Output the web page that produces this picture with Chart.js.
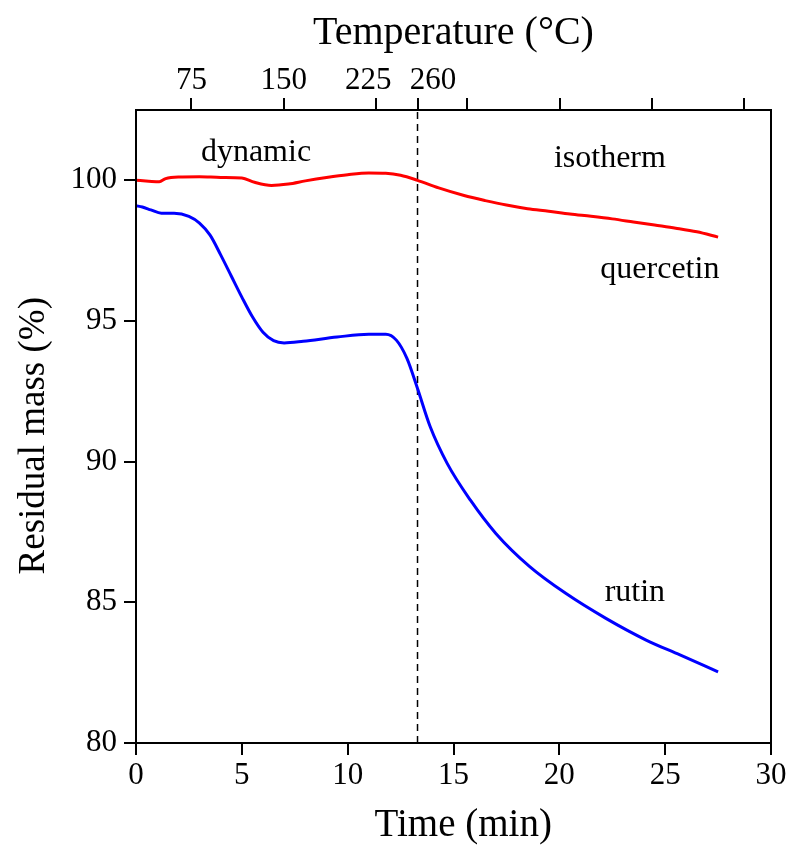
<!DOCTYPE html>
<html>
<head>
<meta charset="utf-8">
<script src="https://cdn.jsdelivr.net/npm/chart.js@4/dist/chart.umd.min.js"></script>
<style>
  html, body { margin: 0; padding: 0; background: #fff; }
  #wrap { width: 789px; height: 845px; position: relative; }
</style>
</head>
<body>
<div id="wrap"><canvas id="tga"></canvas></div>
<script>
/* ── Données ────────────────────────────────────────────────── */
const quercetinTime = [0, 0.6, 1.1, 1.4, 2.0, 3.0, 4.0, 5.0, 5.6, 6.4, 7.2, 8.0, 9.0, 10.0, 11.0, 11.8, 12.5, 13.3, 14.3, 15.5, 16.5, 17.5, 18.5, 19.5, 20.5, 21.5, 22.5, 23.5, 24.5, 25.5, 26.5, 27.5];
const quercetinMass = [100.0, 99.97, 99.95, 100.06, 100.12, 100.13, 100.1, 100.08, 99.93, 99.82, 99.87, 99.98, 100.1, 100.2, 100.26, 100.25, 100.18, 100.0, 99.73, 99.46, 99.28, 99.12, 98.99, 98.9, 98.8, 98.72, 98.63, 98.52, 98.41, 98.3, 98.17, 97.98];

const rutinTime = [0, 0.3, 0.7, 1.2, 1.8, 2.5, 3.0, 3.5, 4.0, 4.5, 5.0, 5.5, 6.0, 6.5, 7.0, 7.9, 9.5, 11.0, 11.8, 12.3, 12.8, 13.3, 13.9, 14.7, 15.8, 17.0, 18.6, 20.3, 22.2, 24.1, 25.7, 27.5];
const rutinMass = [99.1, 99.05, 98.95, 98.83, 98.83, 98.72, 98.48, 98.05, 97.35, 96.6, 95.85, 95.15, 94.6, 94.3, 94.22, 94.28, 94.43, 94.53, 94.53, 94.32, 93.67, 92.6, 91.24, 89.94, 88.63, 87.45, 86.27, 85.32, 84.43, 83.66, 83.13, 82.53];

const switchTime = 13.3;                       // fin de la rampe -> isotherme
const timeTicks  = [0, 5, 10, 15, 20, 25, 30];
const massTicks  = [80, 85, 90, 95, 100];
const tempTickTimes  = [2.62, 6.98, 11.34, 13.3, 15.66, 20.02, 24.38, 28.74];
const tempTickLabels = ['75', '150', '225', '260', '', '', '', ''];

/* ── Styles ─────────────────────────────────────────────────── */
const SERIF = "'Liberation Serif', 'Times New Roman', serif";
const tickFont  = { family: SERIF, size: 31 };
const titleFont = { family: SERIF, size: 39, lineHeight: 1 };

// décalage (en espaces) des étiquettes 225 / 260 pour qu'elles ne se chevauchent pas
const topLabelPad = { 2: { after: 2 }, 3: { before: 4 } };
const padLabel = (txt, i) => {
  const p = topLabelPad[i] || {};
  return ' '.repeat(p.before || 0) + txt + ' '.repeat(p.after || 0);
};

const toXY = (xs, ys) => xs.map((x, i) => ({ x, y: ys[i] }));

const annotations = [
  { text: 'dynamic',   x: 5.67,  y: 100.99 },
  { text: 'isotherm',  x: 22.39, y: 100.78 },
  { text: 'quercetin', x: 24.75, y: 96.84 },
  { text: 'rutin',     x: 23.57, y: 85.36 },
];

const labelsPlugin = {
  id: 'labels',
  afterDatasetsDraw(chart) {
    const { ctx, chartArea, scales } = chart;
    ctx.save();
    // cadre complet
    ctx.strokeStyle = '#000';
    ctx.lineWidth = 2;
    ctx.strokeRect(chartArea.left, chartArea.top, chartArea.right - chartArea.left, chartArea.bottom - chartArea.top);
    ctx.fillStyle = '#000';
    ctx.font = `32px ${SERIF}`;
    ctx.textAlign = 'center';
    ctx.textBaseline = 'middle';
    annotations.forEach(a => {
      ctx.fillText(a.text, scales.x.getPixelForValue(a.x), scales.y.getPixelForValue(a.y));
    });
    ctx.restore();
  },
};

const tickGrid = { display: true, drawOnChartArea: false, drawTicks: true, tickLength: 12, color: '#000', lineWidth: 2 };
const axisBorder = { display: true, color: '#000', width: 2 };

new Chart(document.getElementById('tga'), {
  type: 'line',
  data: {
    datasets: [
      {
        label: 'quercetin',
        data: toXY(quercetinTime, quercetinMass),
        borderColor: '#ff0000',
        borderWidth: 3,
        pointRadius: 0,
        cubicInterpolationMode: 'monotone',
        xAxisID: 'x', yAxisID: 'y',
      },
      {
        label: 'rutin',
        data: toXY(rutinTime, rutinMass),
        borderColor: '#0000ff',
        borderWidth: 3,
        pointRadius: 0,
        cubicInterpolationMode: 'monotone',
        xAxisID: 'x', yAxisID: 'y',
      },
      {
        label: 'switch',
        data: [{ x: switchTime, y: 80 }, { x: switchTime, y: 102.5 }],
        borderColor: '#000',
        borderWidth: 1.5,
        borderDash: [7, 5],
        pointRadius: 0,
        xAxisID: 'x', yAxisID: 'y',
      },
    ],
  },
  options: {
    responsive: true,
    maintainAspectRatio: false,
    animation: false,
    layout: { padding: { left: 0, right: 18, top: 0, bottom: 0 } },
    plugins: { legend: { display: false }, tooltip: { enabled: false } },
    scales: {
      x: {
        type: 'linear', position: 'bottom', min: 0, max: 30,
        afterBuildTicks: s => { s.ticks = timeTicks.map(v => ({ value: v })); },
        afterFit: s => { s.height = 102; },
        grid: tickGrid, border: axisBorder,
        ticks: { font: tickFont, color: '#000', padding: 2, maxRotation: 0 },
        title: { display: true, text: '  Time (min)', font: titleFont, color: '#000', padding: { top: 0, bottom: 0 } },
      },
      x2: {
        type: 'linear', position: 'top', min: 0, max: 30,
        afterBuildTicks: s => { s.ticks = tempTickTimes.map(v => ({ value: v })); },
        afterFit: s => { s.height = 110; },
        grid: tickGrid, border: axisBorder,
        ticks: { font: tickFont, color: '#000', padding: -1, maxRotation: 0, autoSkip: false,
                 callback: (v, i) => padLabel(tempTickLabels[i], i) },
        title: { display: true, text: 'Temperature (°C)', font: { ...titleFont, size: 40 }, color: '#000', padding: { top: 13, bottom: 0 } },
      },
      y: {
        type: 'linear', position: 'left', min: 80, max: 102.5,
        afterBuildTicks: s => { s.ticks = massTicks.map(v => ({ value: v })); },
        afterFit: s => { s.width = 136; },
        grid: tickGrid, border: axisBorder,
        ticks: { font: tickFont, color: '#000', padding: 7 },
        title: { display: true, text: 'Residual mass (%)  ', font: { ...titleFont, size: 37 }, color: '#000', padding: { top: 16, bottom: 0 } },
      },
    },
  },
  plugins: [labelsPlugin],
});
</script>
</body>
</html>
